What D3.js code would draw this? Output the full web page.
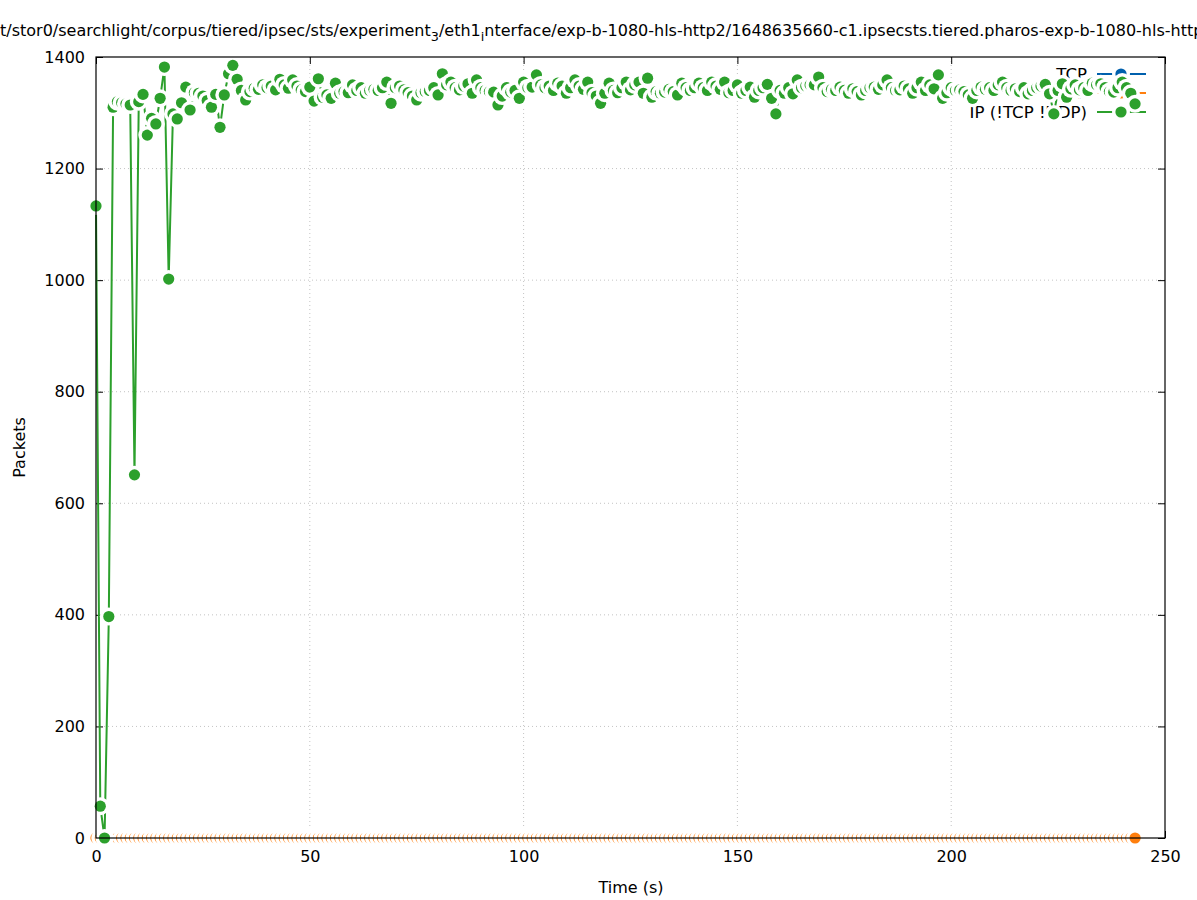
<!DOCTYPE html>
<html><head><meta charset="utf-8">
<script src="https://cdn.jsdelivr.net/npm/d3@7"></script>
<style>body{margin:0;background:#fff}svg{display:block}text{font-family:"DejaVu Sans",sans-serif;fill:#000}</style>
</head><body><svg id="c" width="1197" height="900"></svg>
<script>
const titleParts = [["/mnt/stor0/searchlight/corpus/tiered/ipsec/sts/experiment", false], ["3", true], ["/eth1", false], ["i", true], ["nterface/exp-b-1080-hls-http2/1648635660-c1.ipsecsts.tiered.pharos-exp-b-1080-hls-http2", false]];
const titleHidden = "/mn";
const xLabel = "Time (s)";
const yLabel = "Packets";
const xTicks = [0, 50, 100, 150, 200, 250];
const yTicks = [0, 200, 400, 600, 800, 1000, 1200, 1400];
const seriesNames = ["TCP", "UDP", "IP (!TCP !UDP)"];
const seriesColors = ["#0060ad", "#ff7f0e", "#2ca02c"];
const times = [0,1,2,3,4,5,6,7,8,9,10,11,12,13,14,15,16,17,18,19,20,21,22,23,24,25,26,27,28,29,30,31,32,33,34,35,36,37,38,39,40,41,42,43,44,45,46,47,48,49,50,51,52,53,54,55,56,57,58,59,60,61,62,63,64,65,66,67,68,69,70,71,72,73,74,75,76,77,78,79,80,81,82,83,84,85,86,87,88,89,90,91,92,93,94,95,96,97,98,99,100,101,102,103,104,105,106,107,108,109,110,111,112,113,114,115,116,117,118,119,120,121,122,123,124,125,126,127,128,129,130,131,132,133,134,135,136,137,138,139,140,141,142,143,144,145,146,147,148,149,150,151,152,153,154,155,156,157,158,159,160,161,162,163,164,165,166,167,168,169,170,171,172,173,174,175,176,177,178,179,180,181,182,183,184,185,186,187,188,189,190,191,192,193,194,195,196,197,198,199,200,201,202,203,204,205,206,207,208,209,210,211,212,213,214,215,216,217,218,219,220,221,222,223,224,225,226,227,228,229,230,231,232,233,234,235,236,237,238,239,240,241,242,243];
const tcpPackets = [0,0,0,0,0,0,0,0,0,0,0,0,0,0,0,0,0,0,0,0,0,0,0,0,0,0,0,0,0,0,0,0,0,0,0,0,0,0,0,0,0,0,0,0,0,0,0,0,0,0,0,0,0,0,0,0,0,0,0,0,0,0,0,0,0,0,0,0,0,0,0,0,0,0,0,0,0,0,0,0,0,0,0,0,0,0,0,0,0,0,0,0,0,0,0,0,0,0,0,0,0,0,0,0,0,0,0,0,0,0,0,0,0,0,0,0,0,0,0,0,0,0,0,0,0,0,0,0,0,0,0,0,0,0,0,0,0,0,0,0,0,0,0,0,0,0,0,0,0,0,0,0,0,0,0,0,0,0,0,0,0,0,0,0,0,0,0,0,0,0,0,0,0,0,0,0,0,0,0,0,0,0,0,0,0,0,0,0,0,0,0,0,0,0,0,0,0,0,0,0,0,0,0,0,0,0,0,0,0,0,0,0,0,0,0,0,0,0,0,0,0,0,0,0,0,0,0,0,0,0,0,0,0,0,0,0,0,0,0,0,0,0,0,0];
const udpPackets = [0,0,0,0,0,0,0,0,0,0,0,0,0,0,0,0,0,0,0,0,0,0,0,0,0,0,0,0,0,0,0,0,0,0,0,0,0,0,0,0,0,0,0,0,0,0,0,0,0,0,0,0,0,0,0,0,0,0,0,0,0,0,0,0,0,0,0,0,0,0,0,0,0,0,0,0,0,0,0,0,0,0,0,0,0,0,0,0,0,0,0,0,0,0,0,0,0,0,0,0,0,0,0,0,0,0,0,0,0,0,0,0,0,0,0,0,0,0,0,0,0,0,0,0,0,0,0,0,0,0,0,0,0,0,0,0,0,0,0,0,0,0,0,0,0,0,0,0,0,0,0,0,0,0,0,0,0,0,0,0,0,0,0,0,0,0,0,0,0,0,0,0,0,0,0,0,0,0,0,0,0,0,0,0,0,0,0,0,0,0,0,0,0,0,0,0,0,0,0,0,0,0,0,0,0,0,0,0,0,0,0,0,0,0,0,0,0,0,0,0,0,0,0,0,0,0,0,0,0,0,0,0,0,0,0,0,0,0,0,0,0,0,0,0];
const ipPackets = [1133,57,0,397,1310,1320,1318,1316,1314,651,
1320,1333,1260,1290,1280,1326,1382,1002,1298,1289,
1318,1346,1305,1336,1335,1330,1322,1310,1333,1274,
1332,1370,1385,1360,1340,1323,1338,1344,1342,1350,
1345,1348,1341,1360,1350,1344,1359,1348,1341,1338,
1346,1321,1361,1328,1332,1326,1353,1335,1338,1336,
1350,1340,1345,1335,1340,1342,1340,1345,1355,1317,
1345,1348,1341,1336,1330,1323,1336,1338,1340,1345,
1332,1370,1350,1355,1345,1341,1348,1352,1335,1359,
1345,1340,1338,1337,1314,1330,1345,1337,1340,1326,
1355,1345,1346,1368,1350,1345,1348,1340,1353,1348,
1335,1345,1359,1348,1342,1355,1336,1330,1317,1335,
1353,1340,1336,1345,1355,1341,1350,1355,1335,1362,
1328,1338,1335,1337,1342,1338,1332,1353,1345,1340,
1345,1353,1345,1340,1355,1348,1342,1355,1336,1340,
1350,1335,1340,1346,1328,1340,1345,1351,1326,1298,
1340,1335,1345,1334,1359,1345,1348,1350,1350,1364,
1345,1338,1342,1340,1346,1340,1335,1343,1338,1332,
1340,1345,1346,1342,1350,1359,1345,1340,1341,1348,
1343,1335,1345,1355,1340,1350,1343,1368,1326,1336,
1345,1340,1341,1338,1332,1326,1340,1346,1342,1345,
1340,1350,1355,1345,1340,1343,1338,1345,1334,1340,
1345,1348,1351,1334,1298,1340,1352,1328,1343,1350,
1341,1345,1340,1353,1350,1352,1345,1338,1337,1345,
1355,1345,1335,1316];

const seriesValues = [tcpPackets, udpPackets, ipPackets];

const L = 96, R = 1165, T = 57, B = 838;
const svg = d3.select("#c");
const x = d3.scaleLinear().domain([0, 250]).range([L, R]);
const y = d3.scaleLinear().domain([0, 1400]).range([B, T]);
const FS = 16;
const fmt = d3.format("d");

const grid = svg.append("g").attr("stroke", "#b4b4b4").attr("stroke-width", 0.8).attr("stroke-dasharray", "1,3");
grid.selectAll(".gx").data(xTicks.slice(1, -1)).join("line")
  .attr("x1", d => x(d)).attr("x2", d => x(d)).attr("y1", B).attr("y2", T);
grid.selectAll(".gy").data(yTicks.slice(1, -1)).join("line")
  .attr("x1", L).attr("x2", R).attr("y1", d => y(d)).attr("y2", d => y(d));

const TL = 7;
const axB = svg.append("g").attr("transform", `translate(0,${B})`)
  .call(d3.axisBottom(x).tickValues(xTicks).tickFormat(fmt).tickSizeInner(-TL).tickSizeOuter(0).tickPadding(14));
const axT = svg.append("g").attr("transform", `translate(0,${T})`)
  .call(d3.axisTop(x).tickValues(xTicks).tickSizeInner(-TL).tickSizeOuter(0).tickFormat(""));
const axL = svg.append("g").attr("transform", `translate(${L},0)`)
  .call(d3.axisLeft(y).tickValues(yTicks).tickFormat(fmt).tickSizeInner(-TL).tickSizeOuter(0).tickPadding(11));
const axR = svg.append("g").attr("transform", `translate(${R},0)`)
  .call(d3.axisRight(y).tickValues(yTicks).tickSizeInner(-TL).tickSizeOuter(0).tickFormat(""));
[axB, axT, axL, axR].forEach(a => {
  a.select(".domain").remove();
  a.selectAll(".tick line").attr("stroke", "#000");
  a.selectAll("text").attr("font-size", FS).attr("font-family", '"DejaVu Sans",sans-serif').attr("fill", "#000");
});
axB.selectAll(".tick text").attr("dy", "0.62em");

svg.append("text").attr("x", (L + R) / 2 + 0.5).attr("y", 893).attr("text-anchor", "middle").attr("font-size", FS).text(xLabel);
svg.append("text").attr("transform", `translate(25,${(T + B) / 2}) rotate(-90)`).attr("text-anchor", "middle").attr("font-size", FS).text(yLabel);

const tmp = svg.append("text").attr("font-size", FS).text(titleHidden);
const hiddenW = tmp.node().getComputedTextLength();
tmp.remove();
const title = svg.append("text").attr("x", -hiddenW).attr("y", 36).attr("font-size", FS);
let shifted = false;
titleParts.forEach(([s, sub]) => {
  const ts = title.append("tspan").text(s);
  if (sub) { ts.attr("font-size", FS * 0.8).attr("dy", 5); shifted = true; }
  else if (shifted) { ts.attr("dy", -5); shifted = false; }
});

const PR = 5.6, WR = 9;
const keyX = 1087, keyY = [74, 93, 112], sx1 = 1097, sx2 = 1146, sp = 1121;
const plot = svg.append("g");

seriesNames.forEach((name, i) => {
  const col = seriesColors[i];
  const g = plot.append("g");
  g.append("text").attr("x", keyX).attr("y", keyY[i]).attr("dy", "0.36em").attr("text-anchor", "end").attr("font-size", 16.6).text(name);
  g.append("line").attr("x1", sx1).attr("x2", sx2).attr("y1", keyY[i]).attr("y2", keyY[i]).attr("stroke", col).attr("stroke-width", 2);
  g.append("circle").attr("cx", sp).attr("cy", keyY[i]).attr("r", WR).attr("fill", "#fff");
  g.append("circle").attr("cx", sp).attr("cy", keyY[i]).attr("r", PR).attr("fill", col);
  const pts = times.map((t, j) => [t, seriesValues[i][j]]);
  g.append("path").datum(pts)
    .attr("d", d3.line().x(d => x(d[0])).y(d => y(d[1])))
    .attr("fill", "none").attr("stroke", col).attr("stroke-width", 2);
  pts.forEach(d => {
    g.append("circle").attr("cx", x(d[0])).attr("cy", y(d[1])).attr("r", WR).attr("fill", "#fff");
    g.append("circle").attr("cx", x(d[0])).attr("cy", y(d[1])).attr("r", PR).attr("fill", col);
  });
});

svg.append("rect").attr("x", L).attr("y", T).attr("width", R - L).attr("height", B - T)
  .attr("fill", "none").attr("stroke", "#000").attr("stroke-width", 1.2);
</script></body></html>
